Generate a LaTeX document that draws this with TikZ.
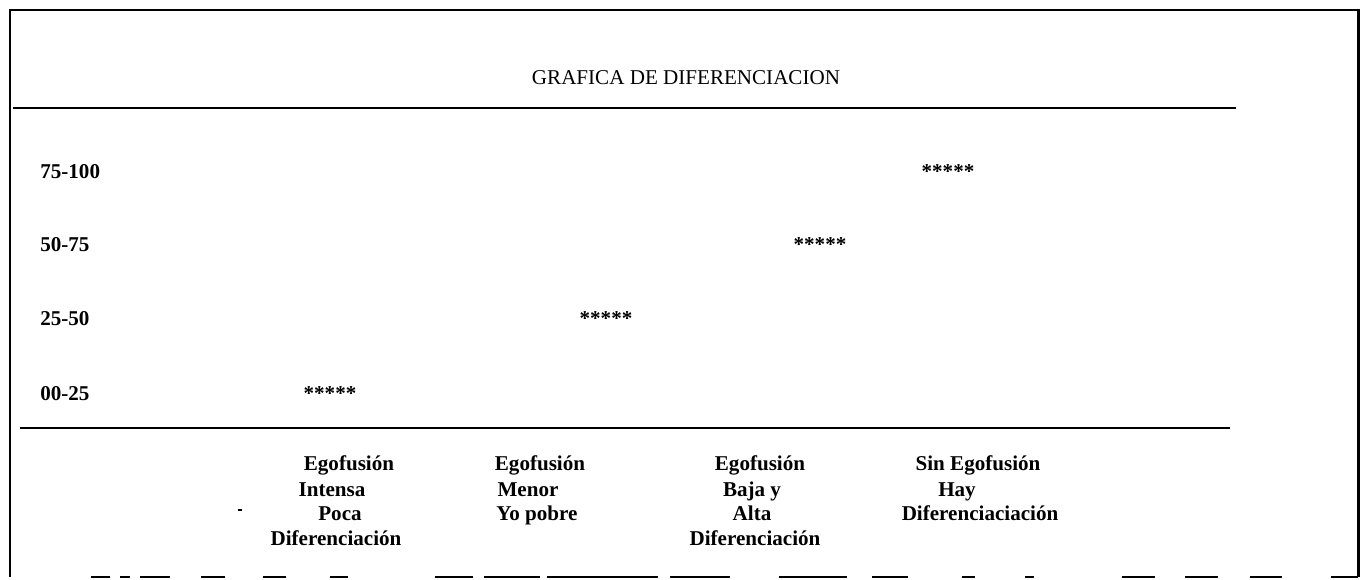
\documentclass[tikz,border=0pt]{standalone}
\usepackage{fontspec}
\setmainfont{Liberation Serif}
\usetikzlibrary{positioning}

\begin{document}
\begin{tikzpicture}[x=0.02cm,y=-0.02cm,
	every node/.style={font=\fontsize{12}{14}\selectfont, inner sep=0pt},
	lab/.style={anchor=base, font=\fontsize{12}{14}\selectfont\bfseries}]
	\useasboundingbox (0,0) rectangle (1365,579);
	
	% frame
	\coordinate (BL) at (10,577);
	\coordinate (TL) at (10,10);
	\coordinate (TR) at (1358,10);
	\coordinate (BR) at (1358,577);
	\draw[line width=1.7pt] (BL) -- (TL) -- (TR) -- (BR);
	% bottom edge, broken
	\foreach \a/\b in {91/110,120/130,140/170,201/225,263/286,330/348,435/473,484/540,547/658,670/730,779/847,872/908,962/975,1025/1034,1122/1155,1185/1218,1250/1282,1331/1358}
	\draw[line width=1.2pt] (\a,577) -- (\b,577);
	
	% title and rules
	\node[anchor=base] (T) at (686,84) {GRAFICA DE DIFERENCIACION};
	\coordinate (H1) at (13,108);
	\coordinate (H2) at (1236,108);
	\draw[line width=0.8pt] (H1) -- (H2);
	\coordinate (X1) at (20,428);
	\coordinate (X2) at (1230,428);
	\draw[line width=1.1pt] (X1) -- (X2);
	
	% row labels
	\node[lab, anchor=base west] (R100) at (40,178) {75-100};
	\node[lab, anchor=base west] (R75) at (40,251) {50-75};
	\node[lab, anchor=base west] (R50) at (40,325) {25-50};
	\node[lab, anchor=base west] (R25) at (40,400) {00-25};
	
	% marks
	\node[lab] (S1) at (330,400) {*****};
	\node[lab] (S2) at (606,325) {*****};
	\node[lab] (S3) at (820,251) {*****};
	\node[lab] (S4) at (948,178) {*****};
	
	% column 1
	\node[lab] (C1a) at (349,470) {Egofusión};
	\node[lab] (C1b) at (332,496) {Intensa};
	\node[lab] (C1c) at (340,520) {Poca};
	\node[lab] (C1d) at (336,545) {Diferenciación};
	\fill (238,509) rectangle (242,511);
	
	% column 2
	\node[lab] (C2a) at (540,470) {Egofusión};
	\node[lab] (C2b) at (528,496) {Menor};
	\node[lab] (C2c) at (537,520) {Yo pobre};
	
	% column 3
	\node[lab] (C3a) at (760,470) {Egofusión};
	\node[lab] (C3b) at (752,496) {Baja y};
	\node[lab] (C3c) at (752,520) {Alta};
	\node[lab] (C3d) at (755,545) {Diferenciación};
	
	% column 4
	\node[lab] (C4a) at (978,470) {Sin Egofusión};
	\node[lab] (C4b) at (957,496) {Hay};
	\node[lab] (C4c) at (980,520) {Diferenciaciación};
\end{tikzpicture}
\end{document}
